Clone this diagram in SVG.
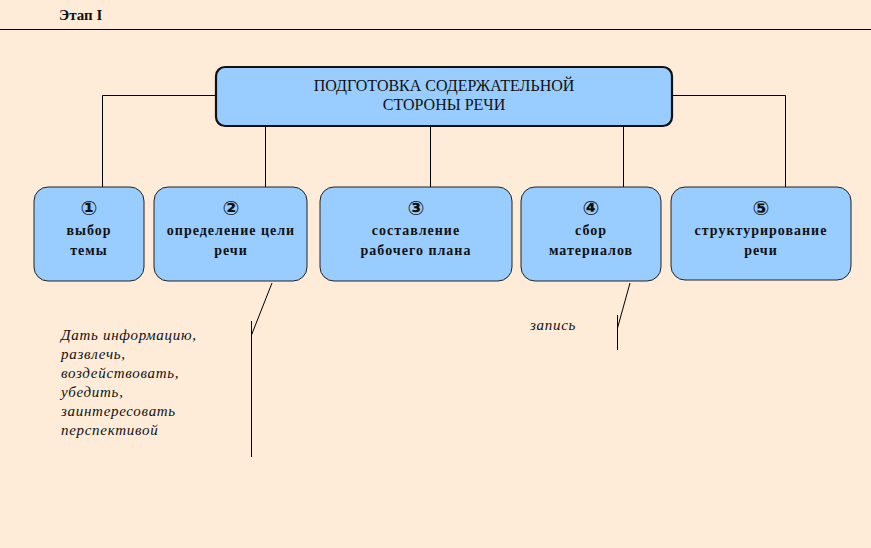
<svg xmlns="http://www.w3.org/2000/svg" width="871" height="548" viewBox="0 0 871 548">
<style>
.bg{fill:#feebd8}
.ln{stroke:#000;stroke-width:1;fill:none}
.box{fill:#99ccff;stroke:#222;stroke-width:1}
.main{fill:#99ccff;stroke:#111;stroke-width:2.2}
.t{font-family:"Liberation Serif","DejaVu Serif",serif;font-size:14px;letter-spacing:1px;font-weight:bold;fill:#111;text-anchor:middle}
.n{font-family:"DejaVu Sans","Liberation Sans",sans-serif;font-size:20px;font-weight:bold;fill:#111;text-anchor:middle}
.m{font-family:"Liberation Serif","DejaVu Serif",serif;font-size:16px;fill:#111;text-anchor:middle}
.i{font-family:"Liberation Serif","DejaVu Serif",serif;font-size:15px;letter-spacing:0.7px;font-style:italic;fill:#111}
</style>
<rect class="bg" x="0" y="0" width="871" height="548"/>
<g id="header">
<text x="59" y="20" font-family="Liberation Serif, serif" font-size="15" font-weight="bold" fill="#111">Этап I</text>
<line class="ln" x1="0" y1="29.5" x2="871" y2="29.5"/>
</g>
<g id="connectors">
<polyline class="ln" points="216,95.5 102.5,95.5 102.5,187"/>
<polyline class="ln" points="672,95.5 785.5,95.5 785.5,187"/>
<line class="ln" x1="265.5" y1="126" x2="265.5" y2="187"/>
<line class="ln" x1="430.5" y1="126" x2="430.5" y2="187"/>
<line class="ln" x1="623.5" y1="126" x2="623.5" y2="187"/>
<line class="ln" x1="272" y1="283" x2="251.5" y2="335"/>
<line class="ln" x1="251.5" y1="321" x2="251.5" y2="457"/>
<line class="ln" x1="630" y1="283" x2="617.5" y2="328"/>
<line class="ln" x1="617.5" y1="315" x2="617.5" y2="350"/>
</g>
<g id="main">
<rect class="main" x="216" y="67" width="456" height="59" rx="9"/>
<text class="m" x="444" y="91">ПОДГОТОВКА СОДЕРЖАТЕЛЬНОЙ</text>
<text class="m" x="444" y="110">СТОРОНЫ РЕЧИ</text>
</g>
<g id="node1">
<rect class="box" x="34" y="187" width="110" height="94" rx="14"/>
<text class="n" x="89" y="215">①</text>
<text class="t" x="89" y="235">выбор</text>
<text class="t" x="89" y="255">темы</text>
</g>
<g id="node2">
<rect class="box" x="154" y="187" width="153" height="94" rx="14"/>
<text class="n" x="231" y="215">②</text>
<text class="t" x="231" y="235">определение цели</text>
<text class="t" x="231" y="255">речи</text>
</g>
<g id="node3">
<rect class="box" x="320" y="187" width="192" height="94" rx="14"/>
<text class="n" x="416" y="215">③</text>
<text class="t" x="416" y="235">составление</text>
<text class="t" x="416" y="255">рабочего плана</text>
</g>
<g id="node4">
<rect class="box" x="521" y="187" width="140" height="94" rx="14"/>
<text class="n" x="591" y="215">④</text>
<text class="t" x="591" y="235">сбор</text>
<text class="t" x="591" y="255">материалов</text>
</g>
<g id="node5">
<rect class="box" x="671" y="187" width="180" height="93" rx="14"/>
<text class="n" x="761" y="215">⑤</text>
<text class="t" x="761" y="235">структурирование</text>
<text class="t" x="761" y="255">речи</text>
</g>
<g id="notes">
<text class="i" x="61" y="340">Дать информацию,</text>
<text class="i" x="61" y="359">развлечь,</text>
<text class="i" x="61" y="378">воздействовать,</text>
<text class="i" x="61" y="397">убедить,</text>
<text class="i" x="61" y="416">заинтересовать</text>
<text class="i" x="61" y="435">перспективой</text>
<text class="i" x="530" y="330">запись</text>
</g>
</svg>
